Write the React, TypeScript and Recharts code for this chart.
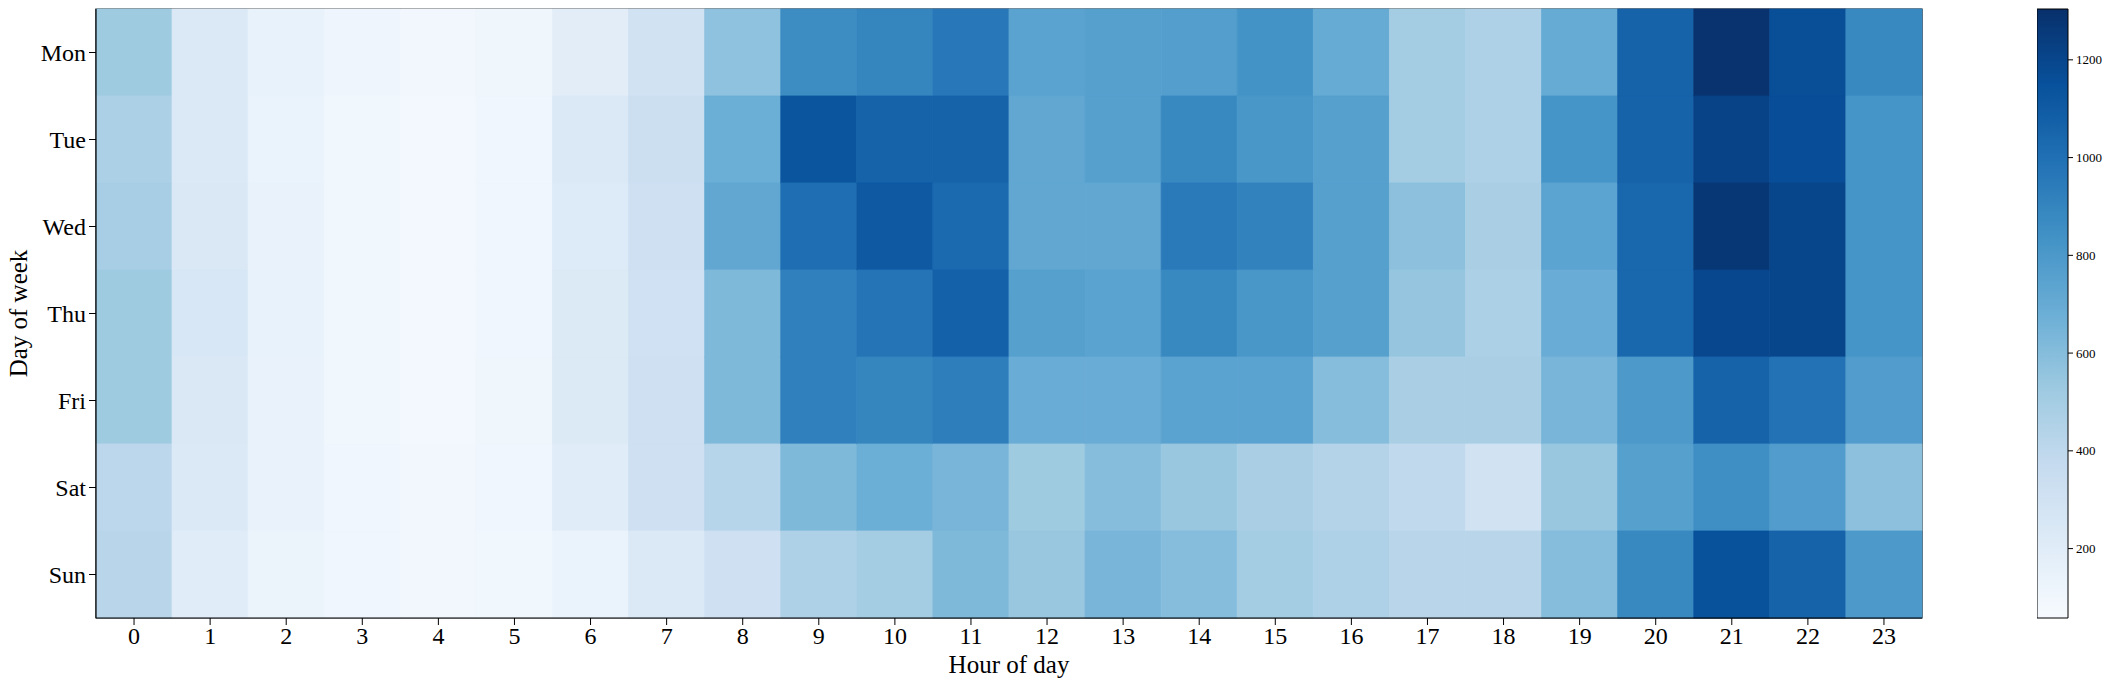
import { BarChart, Bar, XAxis, YAxis, Cell, ReferenceArea } from 'recharts';

const DAYS = ['Mon', 'Tue', 'Wed', 'Thu', 'Fri', 'Sat', 'Sun'];
const HOURS = [0, 1, 2, 3, 4, 5, 6, 7, 8, 9, 10, 11, 12, 13, 14, 15, 16, 17, 18, 19, 20, 21, 22, 23];

// counts per hour, one array per weekday
const MON = [520, 230, 150, 115, 95, 110, 190, 300, 570, 860, 900, 960, 745, 760, 770, 830, 700, 500, 460, 700, 1060, 1290, 1160, 880];
const TUE = [470, 230, 140, 100, 90, 105, 230, 330, 680, 1130, 1060, 1060, 720, 760, 880, 810, 760, 500, 460, 820, 1060, 1215, 1165, 820];
const WED = [490, 240, 145, 100, 92, 105, 220, 320, 720, 1005, 1110, 1030, 720, 720, 950, 910, 760, 580, 480, 740, 1040, 1270, 1200, 820];
const THU = [520, 250, 150, 100, 92, 105, 225, 310, 620, 920, 980, 1070, 760, 745, 880, 810, 760, 550, 470, 690, 1040, 1195, 1200, 820];
const FRI = [520, 240, 145, 100, 92, 110, 225, 320, 620, 920, 900, 930, 690, 690, 745, 745, 600, 480, 480, 640, 800, 1060, 990, 780];
const SAT = [410, 230, 145, 105, 95, 105, 200, 320, 430, 620, 680, 640, 520, 600, 540, 480, 440, 390, 300, 540, 760, 850, 780, 580];
const SUN = [420, 200, 130, 105, 95, 100, 140, 230, 320, 460, 500, 620, 540, 640, 600, 500, 460, 420, 420, 600, 880, 1150, 1060, 800];
const COUNTS = [MON, TUE, WED, THU, FRI, SAT, SUN];

const CBAR_MIN = 58;
const CBAR_MAX = 1304;
const CBAR_TICKS = [200, 400, 600, 800, 1000, 1200];

// matplotlib "Blues"
const BLUES = [
  [247, 251, 255],
  [222, 235, 247],
  [198, 219, 239],
  [158, 202, 225],
  [107, 174, 214],
  [66, 146, 198],
  [33, 113, 181],
  [8, 81, 156],
  [8, 48, 107],
];

const blues = (v: number) => {
  const t = Math.min(1, Math.max(0, (v - CBAR_MIN) / (CBAR_MAX - CBAR_MIN)));
  const pos = t * (BLUES.length - 1);
  const i = Math.min(BLUES.length - 2, Math.floor(pos));
  const f = pos - i;
  const c = BLUES[i].map((a, k) => Math.round(a + (BLUES[i + 1][k] - a) * f));
  return `rgb(${c[0]},${c[1]},${c[2]})`;
};

const FONT = '"Liberation Serif", "Times New Roman", serif';

const rows = DAYS.map((day) => {
  const row: Record<string, string | number> = { day };
  HOURS.forEach((h) => {
    row[`h${h}`] = 1;
  });
  return row;
});

const YLabel = (props: any) => {
  const vb = props.viewBox;
  const cx = vb.x - 22;
  const cy = vb.y + vb.height / 2;
  return (
    <text
      x={cx}
      y={cy}
      transform={`rotate(-90, ${cx}, ${cy})`}
      textAnchor="middle"
      dominantBaseline="central"
      fontSize={25}
      fontFamily={FONT}
      fill="#000"
    >
      Day of week
    </text>
  );
};

export default function App() {
  return (
    <div style={{ position: 'absolute', left: 0, top: 0, width: 2115, height: 690, background: '#fff', fontFamily: FONT }}>
      <div style={{ position: 'absolute', left: 0, top: 0 }}>
        <BarChart
          width={1940}
          height={690}
          data={rows}
          layout="vertical"
          barCategoryGap={0}
          barGap={0}
          margin={{ top: 9, right: 18, left: 40, bottom: 0 }}
        >
          {HOURS.map((h) => (
            <Bar key={h} dataKey={`h${h}`} stackId="cells" isAnimationActive={false}>
              {COUNTS.map((row, i) => (
                <Cell key={i} fill={blues(row[h])} stroke={blues(row[h])} strokeWidth={0.8} />
              ))}
            </Bar>
          ))}
          <XAxis
            type="number"
            domain={[0, 24]}
            ticks={HOURS.map((h) => h + 0.5)}
            tickFormatter={(v: number) => String(v - 0.5)}
            interval={0}
            height={72}
            tickSize={7}
            tickMargin={2}
            tick={{ fontSize: 24, fill: '#000', fontFamily: FONT }}
            axisLine={{ stroke: '#000', strokeWidth: 1.2 }}
            tickLine={{ stroke: '#000' }}
            label={{ value: 'Hour of day', position: 'insideBottom', offset: 17, fontSize: 25, fill: '#000', fontFamily: FONT }}
          />
          <YAxis
            type="category"
            dataKey="day"
            width={56}
            tickSize={7}
            tickMargin={3}
            interval={0}
            tick={{ fontSize: 24, fill: '#000', fontFamily: FONT }}
            axisLine={{ stroke: '#000', strokeWidth: 1.2 }}
            tickLine={{ stroke: '#000' }}
            label={<YLabel />}
          />
          {/* axes frame */}
          <ReferenceArea
            x1={0}
            x2={24}
            y1={DAYS[0]}
            y2={DAYS[DAYS.length - 1]}
            fill="none"
            fillOpacity={0}
            stroke="#000"
            strokeWidth={1.2}
            ifOverflow="visible"
          />
        </BarChart>
      </div>
      <div style={{ position: 'absolute', left: 2037, top: 0 }}>
        <BarChart
          width={100}
          height={690}
          data={[{ name: 'scale', span: [CBAR_MIN, CBAR_MAX] }]}
          barCategoryGap={0}
          margin={{ top: 9, right: 0, left: 0, bottom: 72 }}
        >
          <defs>
            <linearGradient id="bluesScale" x1="0" y1="1" x2="0" y2="0">
              {BLUES.map((c, i) => (
                <stop key={i} offset={`${(i / (BLUES.length - 1)) * 100}%`} stopColor={`rgb(${c[0]},${c[1]},${c[2]})`} />
              ))}
            </linearGradient>
          </defs>
          <XAxis dataKey="name" hide />
          <YAxis
            orientation="right"
            type="number"
            domain={[CBAR_MIN, CBAR_MAX]}
            ticks={CBAR_TICKS}
            width={69}
            tickSize={5}
            tickMargin={3}
            axisLine={false}
            tickLine={{ stroke: '#000' }}
            tick={{ fontSize: 13, fill: '#000', fontFamily: FONT }}
          />
          <Bar dataKey="span" fill="url(#bluesScale)" stroke="#000" strokeWidth={1} isAnimationActive={false} />
        </BarChart>
      </div>
    </div>
  );
}
